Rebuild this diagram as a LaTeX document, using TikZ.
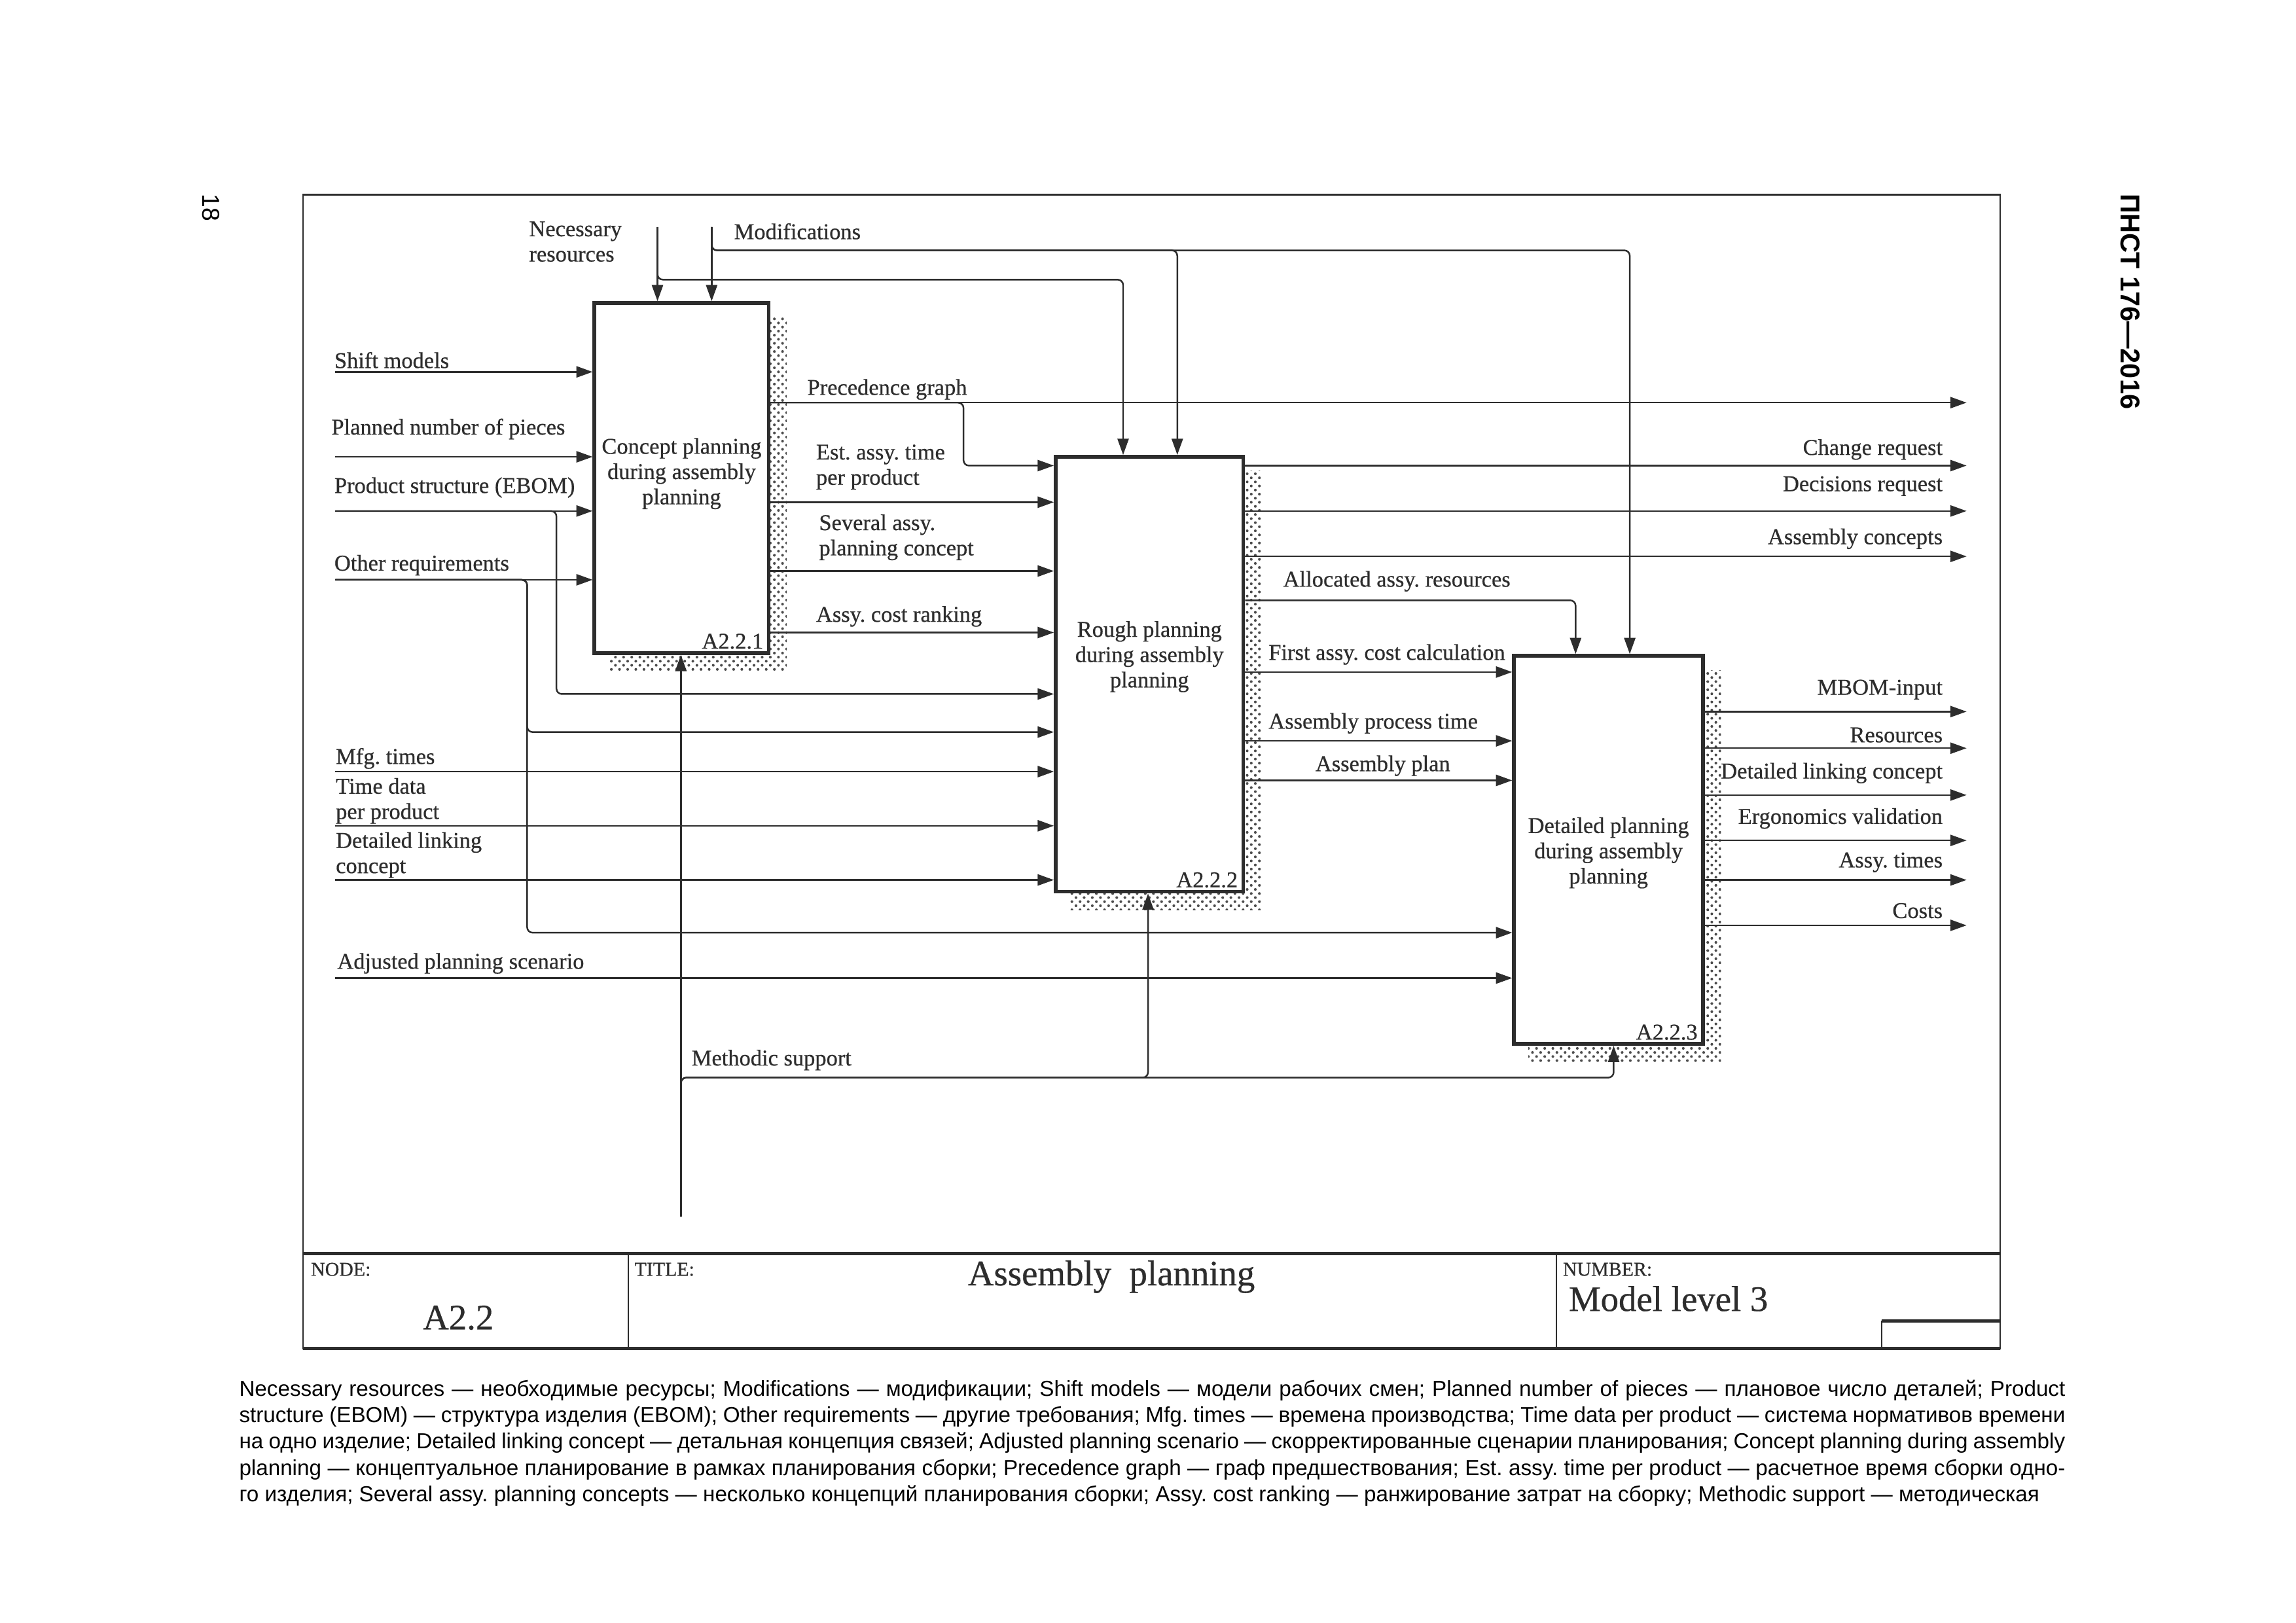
\documentclass[tikz,border=0pt]{standalone}
\usepackage{fontspec}
\setmainfont{Liberation Serif}[FakeBold=0.6]
\newfontfamily\pagefont{Liberation Sans}
\definecolor{ink}{RGB}{45,45,45}
\usetikzlibrary{positioning,fit,calc,patterns,arrows.meta,backgrounds}

\begin{document}
\frenchspacing
\begin{tikzpicture}[x=0.18941mm, y=-0.18941mm,
    flow/.style={draw=ink, line width=0.6pt, rounded corners=0.7mm,
      -{Triangle[length=2.1mm,width=1.45mm]}},
    fnbox/.style={draw=ink, line width=1.4pt, fill=white, inner sep=0pt},
    shadow/.style={pattern=crosshatch dots, pattern color=ink!85},
    lbl/.style={font=\fontsize{8.3}{9.3}\selectfont, text=ink, inner sep=0pt, align=left},
    boxtext/.style={font=\fontsize{8.3}{9.3}\selectfont, text=ink, inner sep=0pt, align=center},
    boxnum/.style={font=\fontsize{8.3}{9.3}\selectfont, text=ink, inner sep=0pt},
    tag/.style={font=\fontsize{7.2}{8}\selectfont, text=ink, inner sep=0pt, anchor=west},
    big/.style={font=\fontsize{13.2}{15}\selectfont, text=ink, inner sep=0pt}
    ]

    \useasboundingbox (0,0) rectangle (1568,1108.5);

    % the three activities
    \node (b1) [fnbox, fit={(406,207) (525,446)}] {};
    \node (b2) [fnbox, fit={(721,312) (849,609)}] {};
    \node (b3) [fnbox, fit={(1034,448) (1163,713)}] {};

    \begin{scope}[on background layer]
    \fill[white] (0,0) rectangle (1568,1108.5);
    \fill[shadow] ($(b1.south west)+(11,11)$) rectangle ($(b1.north east)+(11,11)$);
    \fill[shadow] ($(b2.south west)+(11,11)$) rectangle ($(b2.north east)+(11,11)$);
    \fill[shadow] ($(b3.south west)+(11,11)$) rectangle ($(b3.north east)+(11,11)$);
    \end{scope}

    \node (t1) [boxtext] at ($(b1.center)+(0,-3)$) {Concept planning\\during assembly\\planning};
    \node (t2) [boxtext] at ($(b2.center)+(0,-12)$) {Rough planning\\during assembly\\planning};
    \node (t3) [boxtext] at ($(b3.center)+(0,2)$) {Detailed planning\\during assembly\\planning};
    \node (n1) [boxnum, above left=2pt and 2.5pt of b1.south east] {A2.2.1};
    \node (n2) [boxnum, above left=2pt and 2.5pt of b2.south east] {A2.2.2};
    \node (n3) [boxnum, above left=2pt and 2.5pt of b3.south east] {A2.2.3};

    % free ends of the arrows
    \coordinate (nec) at (449,155);
    \coordinate (mod) at (486,155);
    \coordinate (shift) at (229,254);
    \coordinate (pieces) at (229,312);
    \coordinate (ebom) at (229,349);
    \coordinate (oreq) at (229,396);
    \coordinate (mfg) at (229,527);
    \coordinate (tdata) at (229,564);
    \coordinate (dlink) at (229,601);
    \coordinate (adj) at (229,668);
    \coordinate (meth) at (465,831);
    \coordinate (R) at (1343,0);

    % controls
    \draw[flow] (nec) -- (nec |- b1.north);
    \draw[flow] (mod) -- (mod |- b1.north);
    \draw[flow] (nec) |- (767,191) -- (b2.north -| 767,0);
    \draw[flow] (mod) |- (804,171) -- (b2.north -| 804,0);
    \draw[flow] (mod) |- (1113,171) -- (b3.north -| 1113,0);
    \node (l-nec) [lbl, anchor=west] at (361,165) {Necessary\\resources};
    \node (l-mod) [lbl, anchor=west] at (501,158) {Modifications};

    % inputs
    \draw[flow] (shift) -- (shift -| b1.west);
    \draw[flow] (pieces) -- (pieces -| b1.west);
    \draw[flow] (ebom) -- (ebom -| b1.west);
    \draw[flow] (ebom) -| (380,474) -- (b2.west |- 0,474);
    \draw[flow] (oreq) -- (oreq -| b1.west);
    \draw[flow] (oreq) -| (360,500) -- (b2.west |- 0,500);
    \draw[flow] (oreq) -| (360,637) -- (b3.west |- 0,637);
    \draw[flow] (mfg) -- (mfg -| b2.west);
    \draw[flow] (tdata) -- (tdata -| b2.west);
    \draw[flow] (dlink) -- (dlink -| b2.west);
    \draw[flow] (adj) -- (adj -| b3.west);
    \node (l-shift) [lbl, anchor=west] at (228,246) {Shift models};
    \node (l-pieces) [lbl, anchor=west] at (226,293) {Planned number of pieces};
    \node (l-ebom) [lbl, anchor=west] at (228,333) {Product structure (EBOM)};
    \node (l-oreq) [lbl, anchor=west] at (228,386) {Other requirements};
    \node (l-mfg) [lbl, anchor=west] at (229,518) {Mfg. times};
    \node (l-tdata) [lbl, anchor=west] at (229,547) {Time data\\per product};
    \node (l-dlink) [lbl, anchor=west] at (229,584) {Detailed linking\\concept};
    \node (l-adj) [lbl, anchor=west] at (230,658) {Adjusted planning scenario};

    % outputs of A2.2.1
    \draw[flow] (b1.east |- 0,275) -- (R |- 0,275);
    \draw[flow] (b1.east |- 0,275) -| (658,318) -- (b2.west |- 0,318);
    \draw[flow] (b1.east |- 0,343) -- (b2.west |- 0,343);
    \draw[flow] (b1.east |- 0,390) -- (b2.west |- 0,390);
    \draw[flow] (b1.east |- 0,432) -- (b2.west |- 0,432);
    \node (l-prec) [lbl, anchor=west] at (551,266) {Precedence graph};
    \node (l-est) [lbl, anchor=west] at (557,319) {Est. assy. time\\per product};
    \node (l-sev) [lbl, anchor=west] at (559,367) {Several assy.\\planning concept};
    \node (l-rank) [lbl, anchor=west] at (557,421) {Assy. cost ranking};

    % outputs of A2.2.2
    \draw[flow] (b2.east |- 0,318) -- (R |- 0,318);
    \draw[flow] (b2.east |- 0,349) -- (R |- 0,349);
    \draw[flow] (b2.east |- 0,380) -- (R |- 0,380);
    \draw[flow] (b2.east |- 0,410) -| (b3.north -| 1076,0);
    \draw[flow] (b2.east |- 0,459) -- (b3.west |- 0,459);
    \draw[flow] (b2.east |- 0,506) -- (b3.west |- 0,506);
    \draw[flow] (b2.east |- 0,533) -- (b3.west |- 0,533);
    \node (l-chg) [lbl, anchor=east] at (1327,307) {Change request};
    \node (l-dec) [lbl, anchor=east] at (1327,332) {Decisions request};
    \node (l-conc) [lbl, anchor=east] at (1327,368) {Assembly concepts};
    \node (l-alloc) [lbl, anchor=west] at (876,397) {Allocated assy. resources};
    \node (l-first) [lbl, anchor=west] at (866,447) {First assy. cost calculation};
    \node (l-proc) [lbl, anchor=west] at (866,494) {Assembly process time};
    \node (l-plan) [lbl, anchor=west] at (898,523) {Assembly plan};

    % outputs of A2.2.3
    \draw[flow] (b3.east |- 0,486) -- (R |- 0,486);
    \draw[flow] (b3.east |- 0,511) -- (R |- 0,511);
    \draw[flow] (b3.east |- 0,543) -- (R |- 0,543);
    \draw[flow] (b3.east |- 0,574) -- (R |- 0,574);
    \draw[flow] (b3.east |- 0,601) -- (R |- 0,601);
    \draw[flow] (b3.east |- 0,632) -- (R |- 0,632);
    \node (l-mbom) [lbl, anchor=east] at (1327,471) {MBOM-input};
    \node (l-res) [lbl, anchor=east] at (1327,502) {Resources};
    \node (l-dlc) [lbl, anchor=east] at (1327,528) {Detailed linking concept};
    \node (l-ergo) [lbl, anchor=east] at (1327,559) {Ergonomics validation};
    \node (l-times) [lbl, anchor=east] at (1327,589) {Assy. times};
    \node (l-cost) [lbl, anchor=east] at (1327,622) {Costs};

    % mechanism
    \draw[flow] (meth) -- (meth |- b1.south);
    \draw[flow] (meth) |- (784,736) -- (b2.south -| 784,0);
    \draw[flow] (meth) |- (1102,736) -- (b3.south -| 1102,0);
    \node (l-meth) [lbl, anchor=west] at (472,724) {Methodic support};

    % frame and title block
    \draw[ink, line width=0.6pt] (207,133) rectangle (1366,921);
    \draw[ink, line width=1.2pt] (207,856) -- (1366,856);
    \draw[ink, line width=1.2pt] (207,921) -- (1366,921);
    \draw[ink, line width=0.5pt] (429,856) -- (429,921) (1063,856) -- (1063,921) (1285,921) -- (1285,902);
    \draw[ink, line width=1.2pt] (1285,902) -- (1366,902);
    \node (k-node) [tag] at (212,867) {NODE:};
    \node (k-title) [tag] at (433,867) {TITLE:};
    \node (k-num) [tag] at (1067,867) {NUMBER:};
    \node (v-node) [big] at (313,900) {A2.2};
    \node (v-title) [big] at (759,872) {Assembly~~planning};
    \node (v-num) [big, anchor=west] at (1071,887) {Model level 3};

    % page furniture
    \node (pg) [rotate=-90, font=\pagefont\fontsize{9}{11}\selectfont] at (144,142) {18};
    \node (std) [rotate=-90, font=\pagefont\bfseries\fontsize{10}{12}\selectfont] at (1455,206) {ПНСТ 176—2016};
    \node (legend) [anchor=north west, inner sep=0pt, text width=236.2mm, align=justify,
      font=\pagefont\fontsize{8}{9.72}\selectfont] at (163,942) {\parfillskip=0pt\tolerance=9999
      Necessary resources — необходимые ресурсы; Modifications — модификации; Shift models — модели рабочих смен; Planned number of pieces — плановое число деталей; Product\linebreak
      structure (EBOM) — структура изделия (EBOM); Other requirements — другие требования; Mfg. times — времена производства; Time data per product — система нормативов времени\linebreak
      на одно изделие; Detailed linking concept — детальная концепция связей; Adjusted planning scenario — скорректированные сценарии планирования; Concept planning during assembly\linebreak
      planning — концептуальное планирование в рамках планирования сборки; Precedence graph — граф предшествования; Est. assy. time per product — расчетное время сборки одно-\linebreak
      го изделия; Several assy. planning concepts — несколько концепций планирования сборки; Assy. cost ranking — ранжирование затрат на сборку; Methodic support — методическая};
\end{tikzpicture}
\end{document}
